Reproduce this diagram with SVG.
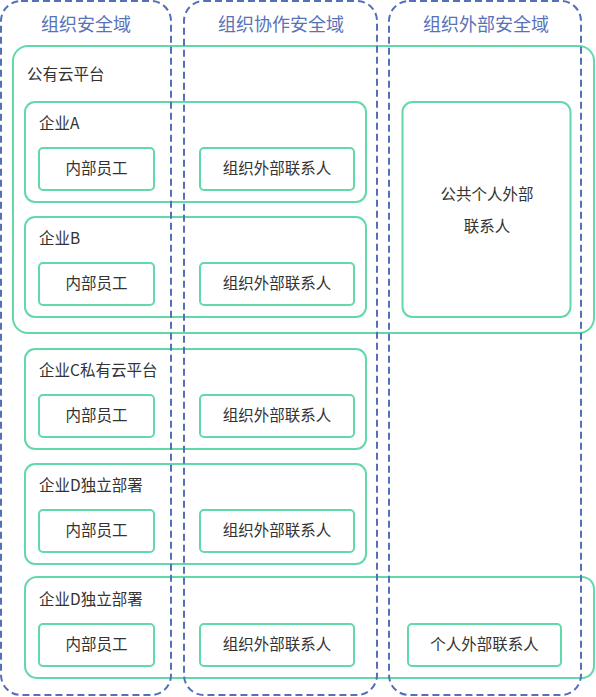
<svg xmlns="http://www.w3.org/2000/svg" width="596" height="697" viewBox="0 0 596 697">
<style>
text{font-family:"Noto Sans CJK SC","Noto Sans",sans-serif;}
.dom{fill:none;stroke:#5470b8;stroke-width:2;stroke-dasharray:7 4;}
.title{font-size:18px;fill:#5872b8;text-anchor:middle;}
.box{fill:none;stroke:#62d9a9;stroke-width:2;}
.lbl{font-size:15.5px;fill:#333;}
.ct{font-size:15.5px;fill:#333;text-anchor:middle;}
</style>
<rect width="596" height="697" fill="#fff"/>
<g id="containers">
<g id="public-cloud"><rect class="box" x="13" y="46" width="581" height="287" rx="15"/><text class="lbl" x="27" y="80">公有云平台</text></g>
<g id="ent-a"><rect class="box" x="25" y="102" width="341" height="100" rx="10"/><text class="lbl" x="39" y="129">企业A</text></g>
<g id="ent-b"><rect class="box" x="25" y="217" width="341" height="100" rx="10"/><text class="lbl" x="39" y="244">企业B</text></g>
<g id="public-personal"><rect class="box" x="402.5" y="102" width="168" height="215" rx="10"/><text class="ct" x="487" y="200">公共个人外部</text><text class="ct" x="487" y="232">联系人</text></g>
<g id="ent-c"><rect class="box" x="25" y="349" width="341" height="100" rx="10"/><text class="lbl" x="39" y="376">企业C私有云平台</text></g>
<g id="ent-d1"><rect class="box" x="25" y="464" width="341" height="100" rx="10"/><text class="lbl" x="39" y="491">企业D独立部署</text></g>
<g id="ent-d2"><rect class="box" x="25" y="577" width="569" height="101" rx="12"/><text class="lbl" x="39" y="605">企业D独立部署</text></g>
</g>
<g id="nodes">
<g id="a-int"><rect class="box" x="39" y="148" width="115" height="42" rx="4"/><text class="ct" x="96.5" y="174">内部员工</text></g>
<g id="a-ext"><rect class="box" x="200" y="148" width="154" height="42" rx="4"/><text class="ct" x="277" y="174">组织外部联系人</text></g>
<g id="b-int"><rect class="box" x="39" y="263" width="115" height="42" rx="4"/><text class="ct" x="96.5" y="289">内部员工</text></g>
<g id="b-ext"><rect class="box" x="200" y="263" width="154" height="42" rx="4"/><text class="ct" x="277" y="289">组织外部联系人</text></g>
<g id="c-int"><rect class="box" x="39" y="395" width="115" height="42" rx="4"/><text class="ct" x="96.5" y="421">内部员工</text></g>
<g id="c-ext"><rect class="box" x="200" y="395" width="154" height="42" rx="4"/><text class="ct" x="277" y="421">组织外部联系人</text></g>
<g id="d1-int"><rect class="box" x="39" y="510" width="115" height="42" rx="4"/><text class="ct" x="96.5" y="536">内部员工</text></g>
<g id="d1-ext"><rect class="box" x="200" y="510" width="154" height="42" rx="4"/><text class="ct" x="277" y="536">组织外部联系人</text></g>
<g id="d2-int"><rect class="box" x="39" y="624" width="115" height="42" rx="4"/><text class="ct" x="96.5" y="650">内部员工</text></g>
<g id="d2-ext"><rect class="box" x="200" y="624" width="154" height="42" rx="4"/><text class="ct" x="277" y="650">组织外部联系人</text></g>
<g id="d2-personal"><rect class="box" x="408" y="624" width="153" height="42" rx="4"/><text class="ct" x="484.5" y="650">个人外部联系人</text></g>
</g>
<g id="domains">
<g id="dom-org"><rect class="dom" x="1" y="1" width="170" height="694" rx="20"/><text class="title" x="86" y="31">组织安全域</text></g>
<g id="dom-collab"><rect class="dom" x="184" y="1" width="193" height="694" rx="20"/><text class="title" x="281" y="31">组织协作安全域</text></g>
<g id="dom-ext"><rect class="dom" x="389" y="1" width="192" height="694" rx="20"/><text class="title" x="486" y="31">组织外部安全域</text></g>
</g>
<g id="connectors"/>
</svg>
